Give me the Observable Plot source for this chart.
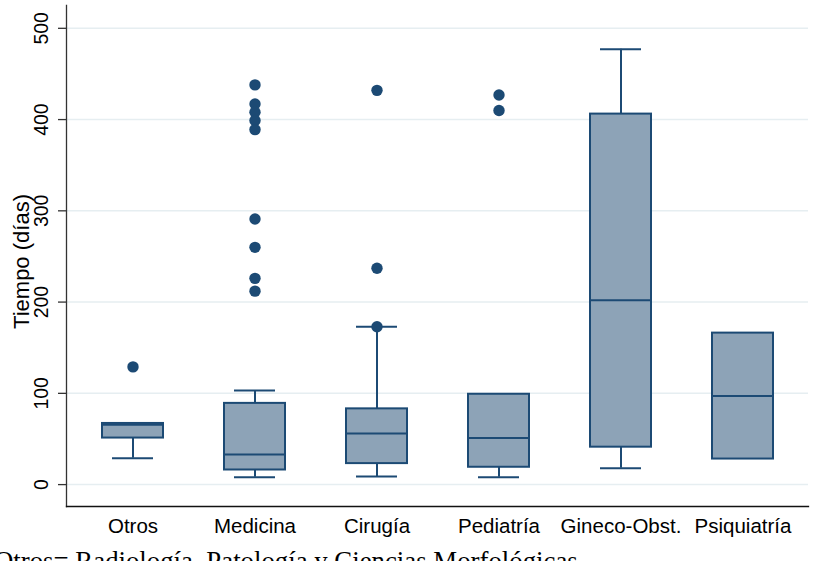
<!DOCTYPE html>
<html><head><meta charset="utf-8">
<script src="https://cdn.jsdelivr.net/npm/d3@7"></script>
<script src="https://cdn.jsdelivr.net/npm/@observablehq/plot@0.6"></script>
<style>
body{margin:0;background:#fff;overflow:hidden}
#caption{font-family:"Liberation Serif","Times New Roman",serif;font-size:26.8px;line-height:1;margin-left:-6px;margin-top:8px;white-space:nowrap;color:#000}
</style></head><body>
<div id="chart"></div>
<div id="caption"></div>
<script>
const categories = ["Otros", "Medicina", "Cirugía", "Pediatría", "Gineco-Obst.", "Psiquiatría"];
const lower  = [29, 8, 9, 8, 18, 28];
const q1     = [51, 16, 23, 19, 41, 28];
const median = [65.5, 33, 56, 51, 202, 97];
const q3     = [67, 89, 83, 99, 406, 166];
const upper  = [67, 103, 173, 99, 477, 166];
const outlierGroup = ["Otros", "Medicina", "Medicina", "Medicina", "Medicina", "Medicina", "Medicina", "Medicina", "Medicina", "Medicina", "Cirugía", "Cirugía", "Cirugía", "Pediatría", "Pediatría"];
const outlierValue = [129, 438, 417, 408, 399, 389, 291, 260, 226, 212, 432, 237, 173, 427, 410];
const yTicks = [0, 100, 200, 300, 400, 500];
const yLabel = "Tiempo (días)";
const captionText = "Otros= Radiología, Patología y Ciencias Morfológicas";

const dark = "#1c4a74";
const boxFill = "#8da3b7";

const boxes = categories.map((c, i) => ({cat: c, lower: lower[i], q1: q1[i], median: median[i], q3: q3[i], upper: upper[i]}));
const outliers = outlierGroup.map((c, i) => ({cat: c, value: outlierValue[i]}));
const upperCaps = boxes.filter(d => d.upper > d.q3);
const lowerCaps = boxes.filter(d => d.lower < d.q1);

const chart = Plot.plot({
  width: 817, height: 540,
  marginLeft: 66, marginRight: 9, marginTop: 5, marginBottom: 34,
  style: {fontFamily: '"Liberation Sans", Arial, sans-serif', background: "#fff", color: "#000"},
  x: {domain: categories, paddingInner: 0.5, paddingOuter: 0.28, label: null},
  y: {domain: [-24, 525], label: null},
  marks: [
    Plot.gridY(yTicks, {stroke: "#e6eef1", strokeOpacity: 1, strokeWidth: 1.5}),
    Plot.frame({anchor: "left", stroke: "#333", strokeWidth: 1.3}),
    Plot.frame({anchor: "bottom", stroke: "#111", strokeWidth: 1.3}),
    Plot.axisY(yTicks, {tickSize: 8, tickFormat: () => "", label: null, stroke: "#333", strokeWidth: 1.3}),
    Plot.text(yTicks, {y: d => d, text: d => String(d), frameAnchor: "left", rotate: -90, textAnchor: "middle", dx: -25, fontSize: 19.5, fill: "#000"}),
    Plot.text([yLabel], {text: d => d, frameAnchor: "left", rotate: -90, textAnchor: "middle", dx: -44.5, dy: 5.5, fontSize: 22, fill: "#000"}),
    Plot.axisX({tickSize: 0, tickPadding: 12, fontSize: 20.5, label: null}),
    Plot.ruleX(boxes, {x: "cat", y1: "q3", y2: "upper", stroke: dark, strokeWidth: 2}),
    Plot.ruleX(boxes, {x: "cat", y1: "lower", y2: "q1", stroke: dark, strokeWidth: 2}),
    Plot.tickY(upperCaps, {x: "cat", y: "upper", inset: 10, stroke: dark, strokeWidth: 2}),
    Plot.tickY(lowerCaps, {x: "cat", y: "lower", inset: 10, stroke: dark, strokeWidth: 2}),
    Plot.barY(boxes, {x: "cat", y1: "q1", y2: "q3", fill: boxFill, stroke: dark, strokeWidth: 2}),
    Plot.tickY(boxes, {x: "cat", y: "median", stroke: dark, strokeWidth: 2}),
    Plot.dot(outliers, {x: "cat", y: "value", r: 5.7, fill: dark, stroke: null})
  ]
});
document.getElementById("chart").appendChild(chart);
document.getElementById("caption").textContent = captionText;
</script>
</body></html>
